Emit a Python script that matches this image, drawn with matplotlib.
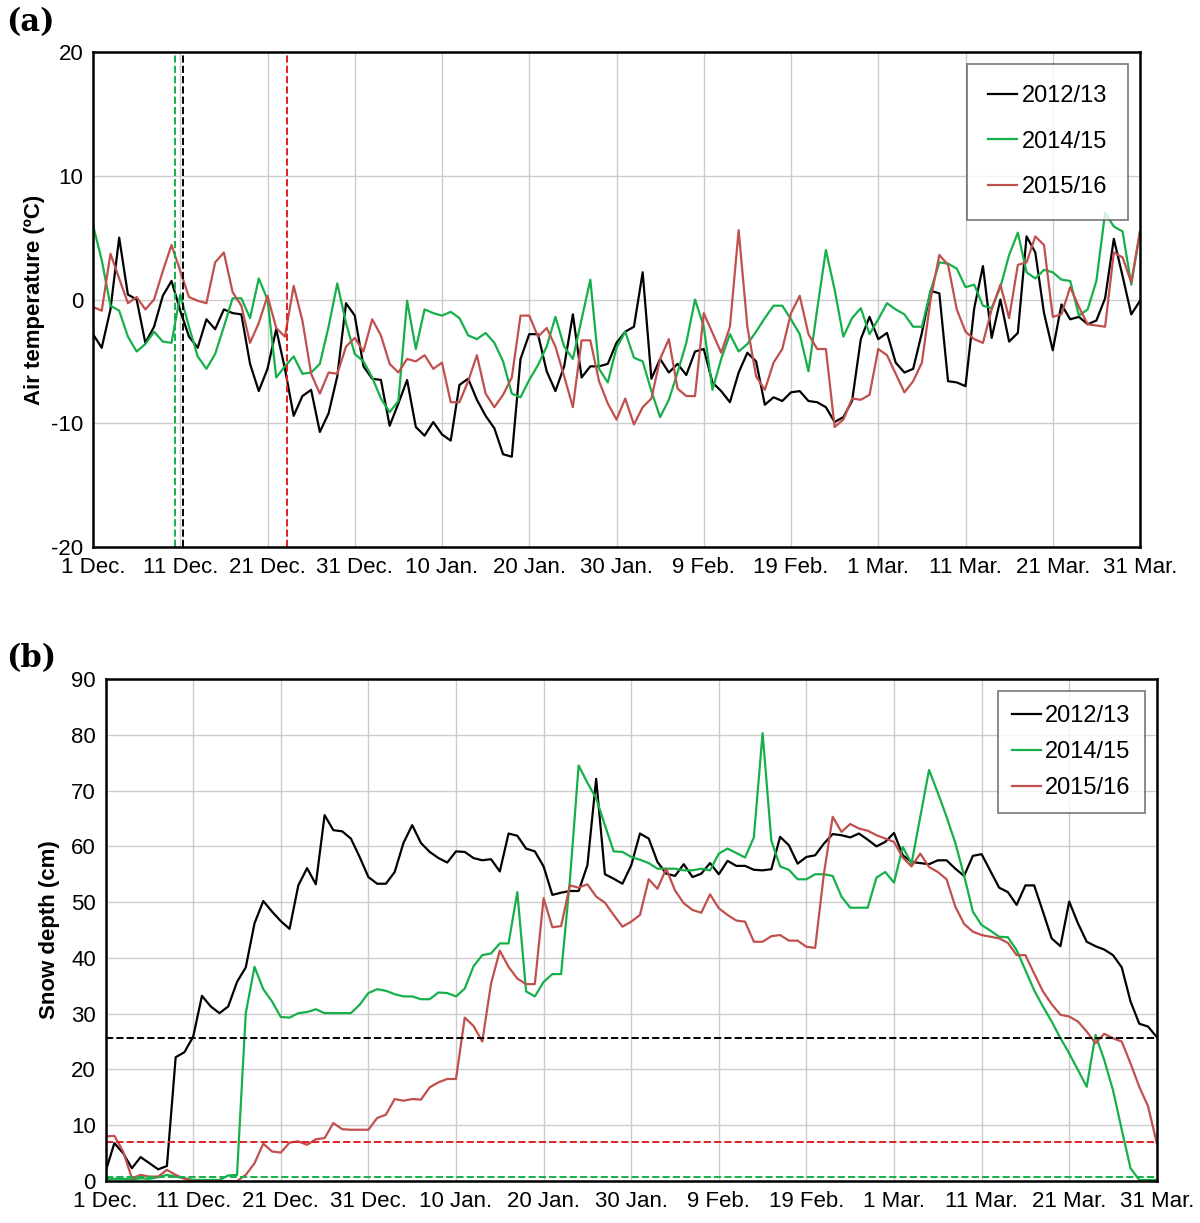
import matplotlib.pyplot as plt
import numpy as np

plt.rcParams['font.family'] = ['Liberation Sans', 'DejaVu Sans']
plt.rcParams['axes.unicode_minus'] = False

tick_labels = ['1 Dec.', '11 Dec.', '21 Dec.', '31 Dec.', '10 Jan.', '20 Jan.', '30 Jan.',
               '9 Feb.', '19 Feb.', '1 Mar.', '11 Mar.', '21 Mar.', '31 Mar.']
tick_days = np.arange(0, 121, 10)
seasons = ['2012/13', '2014/15', '2015/16']
colors = ['#000000', '#16b04a', '#c0504d']

# daily air temperature (deg C), 1 Dec - 31 Mar
temp_1213 = [-2.8, -3.9, -0.8, 5.0, 0.4, 0, -3.5, -2.2, 0.3, 1.5, -0.9, -3, -3.9, -1.6, -2.4,
             -0.8, -1.1, -1.2, -5.2, -7.4, -5.6, -2.4, -5.6, -9.4, -7.8, -7.3, -10.7, -9.2, -6.2,
             -0.3, -1.3, -5.4, -6.4, -6.5, -10.2, -8.4, -6.5, -10.3, -11, -9.9, -10.9, -11.4, -6.9,
             -6.4, -8.1, -9.4, -10.4, -12.5, -12.7, -4.8, -2.8, -2.8, -5.8, -7.4, -5.4, -1.2, -6.3,
             -5.4,
             -5.4, -5.2, -3.5, -2.6, -2.2, 2.2, -6.4, -4.8, -5.9, -5.2, -6.1, -4.2, -4, -6.7, -7.4,
             -8.3, -5.9, -4.3, -5, -8.5, -7.9, -8.2, -7.5, -7.4, -8.2, -8.3, -8.7, -9.9, -9.5, -8.2,
             -3.2, -1.4, -3.2, -2.7, -5.1, -5.9, -5.6, -2.7, 0.7, 0.5, -6.6, -6.7, -7, -0.7, 2.7,
             -3.1, 0, -3.4, -2.7, 5.1, 3.8, -1.1, -4.1, -0.4, -1.6, -1.4, -2, -1.7, 0.1, 4.9, 1.9,
             -1.2, -0.1]
temp_1415 = [6.0, 3.2, -0.5, -0.9, -3, -4.2, -3.6, -2.6, -3.4, -3.5, 0.4, -2.2, -4.6, -5.6, -4.4,
             -2.2, 0.1, 0.1, -1.5, 1.7, 0, -6.3, -5.4, -4.6, -6, -5.9, -5.2, -2.2, 1.3, -1.9, -4.4,
             -5, -6.3, -8, -9.1, -8.2, -0.1, -4, -0.8, -1.1, -1.3, -1, -1.5, -2.9, -3.2, -2.7, -3.5,
             -5, -7.6, -7.9, -6.5, -5.3, -3.8, -1.4, -3.8, -4.8, -1.6, 1.6,
             -5.6, -6.7, -3.9, -2.6, -4.7, -5, -7.4, -9.5, -8.1, -5.9, -3.5, 0, -2.2, -7.3, -4.8,
             -2.8, -4.2, -3.6, -2.6, -1.5, -0.5, -0.5, -1.6, -2.8, -5.8, -0.8, 4.0, 0.8, -3, -1.5,
             -0.7, -2.8, -1.6, -0.3, -0.8, -1.2, -2.2, -2.2, 0.7, 3, 2.9, 2.5, 1, 1.2, -0.5, -0.7,
             1, 3.6, 5.4, 2.2, 1.7, 2.4, 2.2, 1.6, 1.5, -1.3, -0.8, 1.5, 7.0, 5.9, 5.5, 1.2, 5.5]
temp_1516 = [-0.6, -0.9, 3.7, 1.7, -0.3, 0.2, -0.8, 0, 2.3, 4.4, 2.3, 0.2, -0.1, -0.3, 3, 3.8,
             0.6, -0.5, -3.5, -1.9, 0.3, -2.3, -3, 1.1, -1.7, -6, -7.6, -5.9, -6, -3.8, -3.1, -4.2,
             -1.6, -2.9, -5.2, -5.9, -4.8, -5, -4.5, -5.6, -5.1, -8.3, -8.3, -6.6, -4.5, -7.6,
             -8.7, -7.7, -6.3, -1.3, -1.3, -3, -2.3, -3.8, -6.2, -8.7, -3.3, -3.3,
             -6.6, -8.4, -9.7, -8, -10.1, -8.7, -8, -4.8, -3.2, -7.2, -7.8, -7.8, -1.1, -2.7, -4.3,
             -2.2, 5.6, -2.2, -6.2, -7.3, -5.1, -4, -1.1, 0.3, -2.8, -4, -4, -10.3, -9.7, -8, -8.1,
             -7.7, -4, -4.5, -6, -7.5, -6.6, -5.1, 0, 3.6, 2.8, -0.8, -2.6, -3.2, -3.5, -0.8, 1.2,
             -1.5, 2.8, 3, 5.1, 4.4, -1.4, -1.2, 1, -0.6, -2, -2.1, -2.2, 3.8, 3.4, 1.4, 5.5]

# daily snow depth (cm)
snow_1213 = [1.7, 6.8, 5, 2.3, 4.3, 3.2, 2.1, 2.7, 22.2, 23.1, 25.9, 33.2, 31.3, 30.1, 31.3,
             35.7, 38.3, 46.2, 50.2, 48.3, 46.6, 45.2, 53, 56.1, 53.2, 65.6, 62.9, 62.7, 61.4,
             58.1, 54.5, 53.3, 53.3, 55.4, 60.6, 63.8, 60.6, 59, 57.9, 57.1, 59.1, 59, 57.9, 57.5,
             57.7, 55.5, 62.3, 61.9, 59.6, 59.1, 56.4, 51.3, 51.7, 52, 52, 56.6, 72.1, 55, 54.2,
             53.3, 56.6, 62.3, 61.4, 57.2, 55.1, 54.7, 56.8, 54.5, 55.1, 57, 55, 57.4, 56.5, 56.5,
             55.8, 55.7, 55.9, 61.7, 60.2, 56.9, 58.1, 58.4, 60.5, 62.2, 62, 61.6, 62.3, 61.2, 60,
             60.8, 62.4, 58.4, 57.2, 57, 56.8, 57.5, 57.5, 56, 54.7, 58.3, 58.6, 55.6, 52.6, 51.8,
             49.5, 53, 53, 48.3, 43.5, 42.1, 50.1, 46.2, 42.9, 42.1, 41.5, 40.5, 38.3, 32.2, 28.2,
             27.7, 25.8]
snow_1415 = [0.4, 0.4, 0.4, 0.3, 0.5, 0.4, 0.7, 1.1, 0.8, 0.5, 0.2, 0.2, 0.2, 0.2, 1, 1.1,
             30.1, 38.4, 34.4, 32.2, 29.4, 29.3, 30.1, 30.3, 30.8, 30.1, 30.1, 30.1, 30.1, 31.6,
             33.7, 34.4, 34.1, 33.5, 33.1, 33.1, 32.6, 32.6, 33.8, 33.7, 33.1, 34.5, 38.5, 40.5,
             40.8, 42.6, 42.6, 51.8, 34, 33.1, 35.7, 37.1, 37.1, 53.9, 74.5, 71.4, 68.6, 63.8, 59.1,
             59, 58.1, 57.6, 57, 56, 56, 56, 55.7, 55.7, 56, 55.7, 58.7, 59.6, 58.8, 58, 61.6, 80.3,
             61, 56.4, 55.8, 54.1, 54.1, 55, 55, 54.7, 51, 49, 49, 49, 54.4, 55.4, 53.5, 59.9, 56.9,
             65.3, 73.7, 69.6, 65.3, 60.6, 54.8, 48.3, 45.9, 44.9, 43.8, 43.7, 41.4, 37.8, 34.2,
             31.3, 28.6, 25.6, 22.9, 19.9, 16.9, 26.2, 21.7, 16.3, 9.2, 2.3, 0.2, 0.2, 0.2]
snow_1516 = [8, 8.1, 5.3, 0.5, 1.1, 0.8, 0.8, 2, 1.1, 0.4, 0, 0, 0, 0, 0, 0, 1.1, 3.2, 6.7, 5.3,
             5.1, 6.9, 7.1, 6.5, 7.5, 7.7, 10.4, 9.3, 9.2, 9.2, 9.2, 11.3, 11.9, 14.7, 14.4, 14.7,
             14.6, 16.8, 17.7, 18.3, 18.3, 29.3, 27.8, 25, 35.4, 41.3, 38.4, 36.3, 35.3, 35.3, 50.7,
             45.5, 45.7, 53, 52.6, 53.2, 51, 49.9, 47.7,
             45.6, 46.5, 47.7, 54.1, 52.4, 56, 52.1, 49.8, 48.6, 48.1, 51.4, 48.9, 47.7, 46.7,
             46.5, 42.9, 42.9, 43.9, 44.1, 43.1, 43.1, 42, 41.8, 55.1, 65.3, 62.6, 64, 63.2, 62.8,
             62, 61.4, 60.8, 58, 56.4, 58.7, 56.3, 55.4, 54.1, 49.2, 46.1, 44.7, 44.1, 43.8, 43.5,
             42.7, 40.5, 40.5, 37.2, 34, 31.7, 29.8, 29.5, 28.6, 26.8, 24.7, 26.4, 25.6, 25, 21.1,
             16.9, 13.4, 6.8]

onset_days = [10.3, 9.4, 22.2]        # vertical dashed lines in (a)
threshold_depths = [25.7, 0.7, 7.0]   # horizontal dashed lines in (b)
dash_colors = ['#000000', '#16b04a', '#e02020']


def style_axis(ax):
    ax.set_xlim(0, 120)
    ax.set_xticks(tick_days)
    ax.set_xticklabels(tick_labels, fontsize=16)
    ax.tick_params(axis='y', labelsize=16)
    ax.tick_params(length=0, pad=7)
    ax.grid(True, color='#cccccc', linewidth=1)
    ax.set_axisbelow(True)
    for s in ax.spines.values():
        s.set_linewidth(1.8)


fig = plt.figure(figsize=(12, 12.23), dpi=100)
ax1 = fig.add_axes([0.0775, 0.5527, 0.8725, 0.4048])
ax2 = fig.add_axes([0.088, 0.0343, 0.876, 0.4105])

temps = [temp_1213, temp_1415, temp_1516]
for name, vals, c in zip(seasons, temps, colors):
    ax1.plot(np.arange(len(vals)), vals, color=c, lw=1.6, label=name)
for d, c in zip(onset_days, dash_colors):
    ax1.axvline(d, color=c, ls='--', lw=1.4)
ax1.set_ylim(-20, 20)
ax1.set_yticks([-20, -10, 0, 10, 20])
ax1.set_ylabel('Air temperature (ºC)', fontsize=16, fontweight='bold', labelpad=4)
style_axis(ax1)
leg = ax1.legend(loc='upper right', fontsize=17, fancybox=False, edgecolor='#555555',
                 borderpad=0.9, labelspacing=1.0, handlelength=1.2, handletextpad=0.2)
leg.get_frame().set_linewidth(1.2)

snows = [snow_1213, snow_1415, snow_1516]
for name, vals, c in zip(seasons, snows, colors):
    ax2.plot(np.arange(len(vals)), vals, color=c, lw=1.6, label=name)
for h, c in zip(threshold_depths, dash_colors):
    ax2.axhline(h, color=c, ls='--', lw=1.4)
ax2.set_ylim(0, 90)
ax2.set_yticks(np.arange(0, 91, 10))
ax2.set_ylabel('Snow depth (cm)', fontsize=16, fontweight='bold', labelpad=8)
style_axis(ax2)
leg = ax2.legend(loc='upper right', fontsize=17, fancybox=False, edgecolor='#555555',
                 borderpad=0.6, labelspacing=0.6, handlelength=1.2, handletextpad=0.2)
leg.get_frame().set_linewidth(1.2)

fig.text(0.005, 0.975, '(a)', fontsize=22, fontweight='bold', family='DejaVu Serif')
fig.text(0.005, 0.455, '(b)', fontsize=22, fontweight='bold', family='DejaVu Serif')

fig.savefig('out.png')
